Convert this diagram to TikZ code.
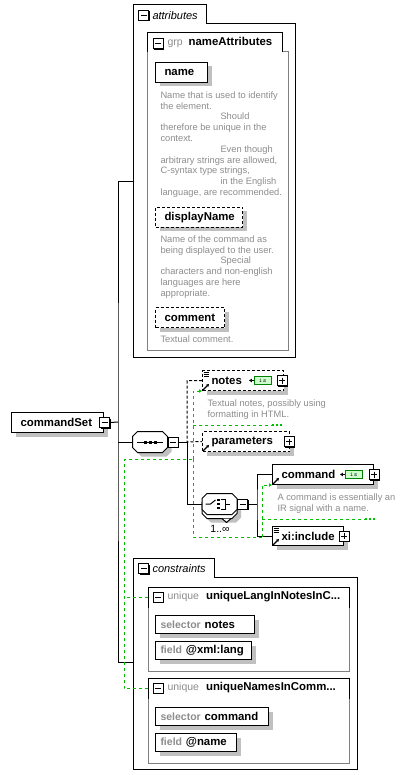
\documentclass[tikz,border=0pt]{standalone}
\usepackage{fontspec}
\setmainfont{Liberation Sans}
\usetikzlibrary{positioning,shadows,arrows.meta}

\definecolor{descgray}{RGB}{140,140,140}
\definecolor{labgray}{RGB}{140,140,140}
\definecolor{framegray}{RGB}{128,128,128}
\definecolor{shadowgray}{RGB}{192,192,192}
\definecolor{keygreen}{RGB}{0,190,0}
\definecolor{isfill}{RGB}{204,255,204}
\definecolor{isdraw}{RGB}{0,128,0}

\newcommand\namefont{\fontsize{11.4}{13}\selectfont\bfseries}
\newcommand\labfont{\fontsize{10.5}{12}\selectfont}
\newcommand\descfont{\fontsize{9.3}{10.8}\selectfont}
\newcommand\tabfont{\fontsize{11}{13}\selectfont\itshape}
\newcommand\octpath[1]{([xshift=5pt]#1.north west) -- ([xshift=-5pt]#1.north east) -- ([yshift=-5pt]#1.north east) -- ([yshift=5pt]#1.south east) -- ([xshift=-5pt]#1.south east) -- ([xshift=5pt]#1.south west) -- ([yshift=5pt]#1.south west) -- ([yshift=-5pt]#1.north west) -- cycle}

\begin{document}
\begin{tikzpicture}[x=1pt, y=-1pt, line width=1pt,
    boxshadow/.style={drop shadow={shadow xshift=4pt, shadow yshift=-4pt, fill=shadowgray, opacity=1}},
    elem/.style={draw, fill=white, boxshadow, anchor=north west, inner xsep=9pt, inner ysep=0pt, minimum height=20pt, align=left, font=\namefont},
    optelem/.style={elem, dash pattern=on 3pt off 2pt},
    keybox/.style={elem, inner xsep=5pt, minimum height=18pt},
    btn/.style={draw, fill=white, minimum size=10pt, inner sep=0pt, drop shadow={shadow xshift=1pt, shadow yshift=-1pt, fill=black, opacity=1}},
    minusbtn/.style={btn, path picture={\draw ([xshift=2pt]path picture bounding box.west) -- ([xshift=-2pt]path picture bounding box.east);}},
    plusbtn/.style={btn, path picture={\draw ([xshift=2pt]path picture bounding box.west) -- ([xshift=-2pt]path picture bounding box.east); \draw ([yshift=-2pt]path picture bounding box.north) -- ([yshift=2pt]path picture bounding box.south);}},
    desc/.style={anchor=north west, inner sep=0pt, align=left, font=\descfont, text=descgray},
    tag/.style={anchor=west, inner sep=0pt, font=\labfont, text=labgray},
    compositor/.style={inner sep=0pt, minimum width=34pt, minimum height=20pt},
    octshadow/.style={fill=shadowgray, transform canvas={shift={(4pt,-4pt)}}},
    optline/.style={dash pattern=on 3pt off 2pt},
    keyline/.style={keygreen, dash pattern=on 3pt off 3pt},
    keytip/.style={keyline, -{Latex[length=3pt,width=4pt]}},
    keydots/.style={keygreen, line width=2pt, dash pattern=on 2pt off 2pt},
    refarrow/.style={line width=1.2pt, -{Stealth[length=3pt,width=3.5pt]}},
    isicon/.style={draw=isdraw, fill=isfill, line width=0.6pt, minimum width=17pt, minimum height=8pt, inner sep=0pt, font=\fontsize{6}{6}\selectfont\ttfamily},
    istip/.style={line width=0.8pt, -{Latex[length=3pt,width=4pt]}}
  ]
  \useasboundingbox (0,0) rectangle (404,775);

  \draw (133,5) -- (206,5) -- (206,24) -- (295,24) -- (295,357) -- (133,357) -- cycle;
  \node[minusbtn] (attrbtn) at (143.5,15.5) {};
  \node[anchor=west, inner sep=0pt, font=\tabfont] (attrtab) at (152,15.5) {attributes};
  \coordinate (attrin) at (133,182);

  \draw[framegray] (282,52) -- (288,52) -- (288,350) -- (147,350) -- (147,52);
  \draw (147,52) -- (147,33) -- (282,33) -- (282,52);
  \node[minusbtn] (grpbtn) at (158,44) {};
  \node[tag] (grptag) at (167,44) {grp};
  \node[base right=5pt of grptag, inner sep=0pt, font=\namefont] (grpname) {nameAttributes};

  \node[elem, text width=34pt] (name) at (155,62) {name};
  \node[desc] (namedesc) at (160,91) {Name that is used to identify\\the element.\\\hspace*{60pt}Should\\therefore be unique in the\\context.\\\hspace*{60pt}Even though\\arbitrary strings are allowed,\\C-syntax type strings,\\\hspace*{60pt}in the English\\language, are recommended.};
  \node[optelem, text width=69pt] (dispname) at (155,207) {displayName};
  \node[desc] (dispdesc) at (160,235) {Name of the command as\\being displayed to the user.\\\hspace*{60pt}Special\\characters and non-english\\languages are here\\appropriate.};
  \node[optelem, text width=51pt] (comment) at (155,307) {comment};
  \node[desc] (commentdesc) at (160,335) {Textual comment.};

  \node[elem, text width=74pt] (cmdset) at (11,412) {commandSet};
  \node[minusbtn] (cmdsetbtn) at ([xshift=0.5pt]cmdset.east) {};
  \coordinate (trunk) at (118,422);

  \node[compositor] (seq) at (150,442) {};
  \fill[octshadow] \octpath{seq};
  \draw[fill=white] \octpath{seq};
  \node[minusbtn, anchor=west] (seqbtn) at (seq.east) {};
  \begin{scope}[shift={(seq.center)}]
    \draw (-13,0) -- (13,0);
    \foreach \dx in {-5,0,5} \fill (\dx-1.5,-1.5) rectangle ++(3,3);
  \end{scope}
  \coordinate (seqjoin) at (187,442);

  \node[optelem, text width=63pt] (notes) at (202,370) {notes};
  \node[plusbtn] (notesbtn) at ([xshift=-2pt]notes.east) {};
  \node[isicon, left=5pt of notesbtn] (notesis) {i\,s};
  \draw[istip] (notesis.west) -- ++(-5,0);
  \draw[refarrow] ([shift={(1,-1)}]notes.south west) -- ++(6,-6);
  \foreach \dy in {2,4,6} \draw[line width=0.7pt] ([shift={(1.5,\dy)}]notes.north west) -- ++(5,0);
  \node[desc] (notesdesc) at (207,399) {Textual notes, possibly using\\formatting in HTML.};

  \node[optelem, text width=69pt] (params) at (202,431) {parameters};
  \node[plusbtn] (paramsbtn) at ([xshift=-1pt]params.east) {};
  \draw[refarrow] ([shift={(1,-1)}]params.south west) -- ++(6,-6);

  \node[compositor] (chback) at (219.5,508) {};
  \node[compositor] (choice) at (219.5,504) {};
  \fill[octshadow] \octpath{chback};
  \draw[fill=white] \octpath{chback};
  \draw[fill=white] ([xshift=2.5pt]chback.south) -- ++(4.5,4) -- ++(4.5,-4);
  \draw[fill=white] \octpath{choice};
  \node[minusbtn, anchor=west] (choicebtn) at (choice.east) {};
  \begin{scope}[shift={(choice.center)}]
    \draw (-14,0) -- (-9,0) -- (-4,-4);
    \foreach \dy in {-4,0,4} \fill (-2.2,\dy-1.2) rectangle ++(2.5,2.5);
    \draw (1.5,-5) -- (5.5,-5) -- (5.5,5) -- (1.5,5) (5.5,0) -- (10,0);
  \end{scope}
  \node[inner sep=0pt, font=\labfont] (choicemult) at (220,529) {1..∞};
  \coordinate (chjoin) at (257,504);

  \node[elem, text width=83pt] (command) at (272,464) {command};
  \node[plusbtn] (commandbtn) at (command.east) {};
  \node[isicon, left=6pt of commandbtn] (commandis) {i\,s};
  \draw[istip] (commandis.west) -- ++(-5,0);
  \draw[refarrow] ([shift={(1,-1)}]command.south west) -- ++(6,-6);
  \node[desc] (commanddesc) at (277,493) {A command is essentially an\\IR signal with a name.};

  \node[elem, text width=53pt, minimum height=19pt] (xiinc) at (272,526) {xi:include};
  \node[plusbtn] (xiincbtn) at (xiinc.east) {};
  \draw[refarrow] ([shift={(1,-1)}]xiinc.south west) -- ++(6,-6);
  \foreach \dy in {2,4,6} \draw[line width=0.7pt] ([shift={(1.5,\dy)}]xiinc.north west) -- ++(5,0);

  \draw (133,558) -- (214,558) -- (214,577) -- (357,577) -- (357,769) -- (133,769) -- cycle;
  \node[minusbtn] (consbtn) at (143.5,568.5) {};
  \node[anchor=west, inner sep=0pt, font=\tabfont] (constab) at (152,568.5) {constraints};
  \coordinate (consin) at (133,662);

  \node[anchor=north west, minimum width=200pt, minimum height=20pt, inner sep=0pt] (uniq1) at (148,587) {};
  \draw (uniq1.south west) |- (uniq1.north east) -- (uniq1.south east);
  \draw[framegray] (uniq1.south east) -- ++(0,63) -| (uniq1.south west);
  \node[minusbtn] (uniq1btn) at (158,597) {};
  \node[tag] (uniq1tag) at (167,597) {unique};
  \node[base right=6pt of uniq1tag, inner sep=0pt, font=\namefont] (uniq1name) {uniqueLangInNotesInC...};
  \node[keybox, text width=89pt] (sel1) at (155,615) {{\labfont\color{labgray}selector} notes};
  \node[keybox, text width=86pt] (field1) at (155,641) {{\labfont\color{labgray}field} @xml:lang};

  \node[anchor=north west, minimum width=200pt, minimum height=20pt, inner sep=0pt] (uniq2) at (148,678) {};
  \draw (uniq2.south west) |- (uniq2.north east) -- (uniq2.south east);
  \draw[framegray] (uniq2.south east) -- ++(0,64) -| (uniq2.south west);
  \node[minusbtn] (uniq2btn) at (158,688) {};
  \node[tag] (uniq2tag) at (167,688) {unique};
  \node[base right=6pt of uniq2tag, inner sep=0pt, font=\namefont] (uniq2name) {uniqueNamesInComm...};
  \node[keybox, text width=103pt] (sel2) at (155,707) {{\labfont\color{labgray}selector} command};
  \node[keybox, text width=71pt] (field2) at (155,733) {{\labfont\color{labgray}field} @name};

  \draw (cmdsetbtn.east) -- (trunk);
  \draw (attrin) -| (trunk) |- (consin);
  \draw (trunk |- seq.west) -- (seq.west);
  \draw (seqbtn.east) -- (seqjoin) |- (choice.west);
  \draw[optline] (notes.west) -| (seqjoin) -- (params.west);
  \draw (choicebtn.east) -- (chjoin);
  \draw (command.west) -| (chjoin) |- (xiinc.west);

  \coordinate (keyA) at (124,459);
  \coordinate (keyB) at (193,459);
  \coordinate (keyC) at (262,537);
  \coordinate (notesrule) at (272,425);
  \coordinate (cmdrule) at (365,519);
  \draw[keyline] (uniq2.west) -| (keyA) -- (keyB);
  \draw[keyline] (uniq1.west) -- (keyA |- uniq1.west);
  \draw[keytip] (keyB) |- (notes.south west);
  \draw[keyline] (keyB) |- (keyC);
  \draw[keytip] (keyC) |- (command.south west);
  \draw[keyline] (keyB |- notesrule) -- (notesrule);
  \draw[keydots] (notesrule) -- ++(11,0);
  \draw[keyline] (keyC |- cmdrule) -- (cmdrule);
  \draw[keydots] (cmdrule) -- ++(11,0);
\end{tikzpicture}
\end{document}
